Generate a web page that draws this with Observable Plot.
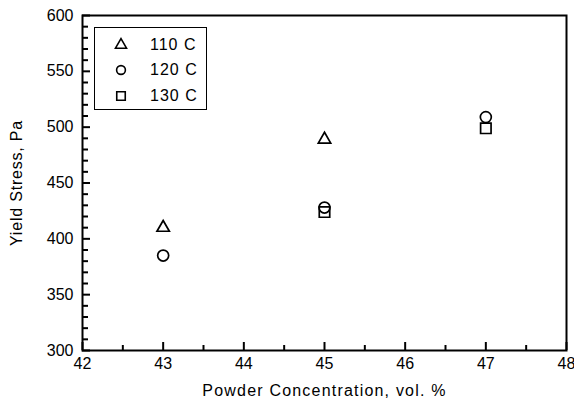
<!DOCTYPE html>
<html><head><meta charset="utf-8">
<script src="https://cdn.jsdelivr.net/npm/d3@7"></script>
<script src="https://cdn.jsdelivr.net/npm/@observablehq/plot@0.6"></script>
<style>
body{margin:0;background:#fff;font-family:"Liberation Sans",Arial,sans-serif;}
#wrap{position:relative;width:574px;height:403px;}
#legend{position:absolute;left:94px;top:27px;width:111px;height:81px;border:1.5px solid #000;background:#fff;}
.row{position:absolute;left:0;height:20px;font-size:16px;line-height:20px;letter-spacing:1px;}
.row svg{position:absolute;left:18px;top:0;}
.row span{position:absolute;left:55px;white-space:nowrap;}
</style>
</head><body><div id="wrap"></div>
<script>
const series = ["110 C", "120 C", "130 C"];
const symbols = ["triangle", "circle", "square"];
const concentration = [43, 45, 47];
const stress110 = [410, 489, null];
const stress120 = [385, 428, 509];
const stress130 = [null, 424, 499];
const xMajor = [42, 43, 44, 45, 46, 47, 48];
const xMinor = [42.5, 43.5, 44.5, 45.5, 46.5, 47.5];
const yMajor = [300, 350, 400, 450, 500, 550, 600];
const yMinor = d3.range(300, 601, 10).filter(v => v % 50 !== 0);

const markerR = [4.6, 5.5, 5.9];
const legendR = [4.1, 4.4, 4.8];

const stresses = [stress110, stress120, stress130];
const seriesData = stresses.map((arr, i) =>
  arr.map((v, j) => ({x: concentration[j], y: v, s: series[i]})).filter(d => d.y != null));

const xMin = xMajor[0], yMin = yMajor[0];
const layout = {
  width: 574, height: 403,
  marginLeft: 82, marginRight: 8, marginTop: 15, marginBottom: 53,
  x: {domain: [xMajor[0], xMajor[xMajor.length - 1]]},
  y: {domain: [yMajor[0], yMajor[yMajor.length - 1]]}
};
// first pass: read the scales to turn inward tick lengths (pixels) into data units
const probe = Plot.plot({...layout, marks: [Plot.frame()]});
const xs = probe.scale("x"), ys = probe.scale("y");
const yEnd = len => ys.invert(ys.apply(yMin) - len);
const xEnd = len => xs.invert(xs.apply(xMin) + len);

const plot = Plot.plot({
  ...layout,
  style: {fontFamily: "'Liberation Sans', Arial, sans-serif", fontSize: "16px", background: "#fff"},
  marks: [
    Plot.axisX(xMajor, {tickSize: 0, tickPadding: 7, tickFormat: d => d, fontSize: 16,
      label: "Powder Concentration, vol. %", labelAnchor: "center", labelOffset: 45, labelArrow: "none"}),
    Plot.axisY(yMajor, {tickSize: 0, tickPadding: 9, tickFormat: d => d, fontSize: 16,
      label: "Yield Stress, Pa", labelAnchor: "center", labelOffset: 72, labelArrow: "none"}),
    Plot.frame({stroke: "black", strokeWidth: 2}),
    Plot.ruleX(xMajor, {x: d => d, y1: yMin, y2: yEnd(8), stroke: "black", strokeWidth: 2}),
    Plot.ruleX(xMinor, {x: d => d, y1: yMin, y2: yEnd(5), stroke: "black", strokeWidth: 2}),
    Plot.ruleY(yMajor, {y: d => d, x1: xMin, x2: xEnd(8), stroke: "black", strokeWidth: 2}),
    Plot.ruleY(yMinor, {y: d => d, x1: xMin, x2: xEnd(6), stroke: "black", strokeWidth: 2}),
    ...seriesData.map((d, i) => Plot.dot(d, {x: "x", y: "y", symbol: () => symbols[i], r: markerR[i], stroke: "black", strokeWidth: 1.7, fill: "none"}))
  ]
});
const wrap = document.getElementById("wrap");
wrap.appendChild(plot);
plot.querySelectorAll("text").forEach(t => {
  if (t.textContent === "Powder Concentration, vol. %") t.style.letterSpacing = "1.2px";
  if (t.textContent === "Yield Stress, Pa") t.style.letterSpacing = "0.8px";
});

const legend = document.createElement("div");
legend.id = "legend";
const symTypes = {triangle: d3.symbolTriangle, circle: d3.symbolCircle, square: d3.symbolSquare};
series.forEach((s, i) => {
  const row = document.createElement("div");
  row.className = "row";
  row.style.top = (6.5 + i * 25.5) + "px";
  const sym = d3.symbol(symTypes[symbols[i]], legendR[i] * legendR[i] * Math.PI)();
  row.innerHTML = `<svg width="16" height="20" viewBox="-8 -10 16 20"><path d="${sym}" fill="none" stroke="#000" stroke-width="1.6"/></svg><span>${s}</span>`;
  legend.appendChild(row);
});
wrap.appendChild(legend);
</script></body></html>
